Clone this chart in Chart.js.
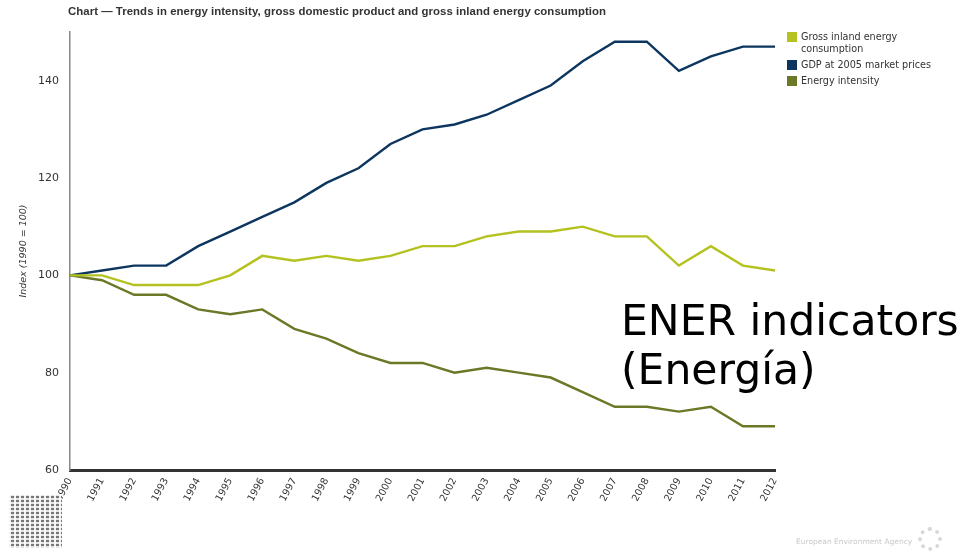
<!DOCTYPE html>
<html>
<head>
<meta charset="utf-8">
<script src="https://cdn.jsdelivr.net/npm/chart.js@4"></script>
<style>
  html, body { margin: 0; padding: 0; background: #fff; }
  #wrap { position: relative; width: 964px; height: 555px; overflow: hidden; font-family: "DejaVu Sans", Verdana, sans-serif; }
  canvas { position: absolute; left: 0; top: 0; }
  #title { position: absolute; left: 68px; top: 5px; font: bold 11.4px "Liberation Sans", Arial, sans-serif; color: #333; white-space: nowrap; letter-spacing: 0.05px; }
  #legend { position: absolute; left: 787px; top: 31px; font: 10.7px "DejaVu Sans Condensed", "DejaVu Sans", sans-serif; color: #333; }
  .li { position: relative; padding-left: 14px; line-height: 12px; margin-bottom: 4px; }
  .sw { position: absolute; left: 0; top: 1px; width: 10px; height: 10px; }
  #overlay { position: absolute; left: 621px; top: 296px; font: 42.5px "DejaVu Sans", sans-serif; color: #000; line-height: 49px; white-space: nowrap; }
  #qr { position: absolute; left: 9px; top: 495px; width: 53px; height: 53px;
        background:
          repeating-linear-gradient(90deg, rgba(255,255,255,0.9) 0 2px, transparent 2px 5px),
          repeating-linear-gradient(0deg, rgba(255,255,255,0.8) 0 2px, transparent 2px 4px),
          #777; }
  #eea { position: absolute; left: 796px; top: 537px; font: 7.5px "DejaVu Sans", sans-serif; color: #c8c8c8; white-space: nowrap; }
  #sun { position: absolute; left: 918px; top: 527px; width: 24px; height: 24px; border-radius: 50%; border: 4px dotted #d8d8d8; box-sizing: border-box; }
</style>
</head>
<body>
<div id="wrap">
  <canvas id="c" width="964" height="555"></canvas>
  <div id="title">Chart — Trends in energy intensity, gross domestic product and gross inland energy consumption</div>
  <div id="legend"></div>
  <div id="qr"></div>
  <div id="overlay">ENER indicators<br>(Energía)</div>
  <div id="eea">European Environment Agency</div>
  <div id="sun"></div>
</div>
<script>
const years = ["1990","1991","1992","1993","1994","1995","1996","1997","1998","1999","2000","2001","2002","2003","2004","2005","2006","2007","2008","2009","2010","2011","2012"];
const grossInland = [100,100,98,98,98,100,104,103,104,103,104,106,106,108,109,109,110,108,108,102,106,102,101];
const gdp = [100,101,102,102,106,109,112,115,119,122,127,130,131,133,136,139,144,148,148,142,145,147,147];
const energyIntensity = [100,99,96,96,93,92,93,89,87,84,82,82,80,81,80,79,76,73,73,72,73,69,69];
const seriesNames = ["Gross inland energy consumption","GDP at 2005 market prices","Energy intensity"];
const seriesColors = ["#b3c21f","#0c365f","#6b7826"];
const yTicks = [60,80,100,120,140];

const legendEl = document.getElementById('legend');
const legendLabels = ["Gross inland energy<br>consumption", "GDP at 2005 market prices", "Energy intensity"];
legendLabels.forEach((t, i) => {
  const d = document.createElement('div');
  d.className = 'li';
  d.innerHTML = '<span class="sw" style="background:' + seriesColors[i] + '"></span>' + t;
  legendEl.appendChild(d);
});

const mk = (label, data, color) => ({
  label, data, borderColor: color, backgroundColor: color,
  borderWidth: 2.4, pointRadius: 0, tension: 0, fill: false
});

new Chart(document.getElementById('c'), {
  type: 'line',
  data: {
    labels: years,
    datasets: [
      mk(seriesNames[0], grossInland, seriesColors[0]),
      mk(seriesNames[1], gdp, seriesColors[1]),
      mk(seriesNames[2], energyIntensity, seriesColors[2])
    ]
  },
  options: {
    responsive: false,
    animation: false,
    layout: { padding: { left: 0, right: 189, top: 32, bottom: 0 } },
    plugins: { legend: { display: false }, tooltip: { enabled: false } },
    scales: {
      x: {
        offset: false,
        grid: { display: false, drawTicks: false },
        border: { display: true, color: '#333', width: 3 },
        ticks: {
          autoSkip: false, maxRotation: 62, minRotation: 62, padding: 6,
          color: '#333', font: { family: 'DejaVu Sans', size: 9.8 }
        },
        afterFit: s => { s.height = 85; }
      },
      y: {
        min: 60, max: 150,
        grid: { display: false, drawTicks: false },
        border: { display: true, color: '#888', width: 1.5 },
        afterBuildTicks: s => { s.ticks = yTicks.map(v => ({ value: v })); },
        ticks: { padding: 11, color: '#333', font: { family: 'DejaVu Sans', size: 11 } },
        title: {
          display: true, text: 'Index (1990 = 100)', color: '#333',
          font: { family: 'DejaVu Sans', size: 9.5, style: 'italic' },
          padding: { top: 18, bottom: 0 }
        },
        afterFit: s => { s.width = 70; }
      }
    }
  }
});
</script>
</body>
</html>
